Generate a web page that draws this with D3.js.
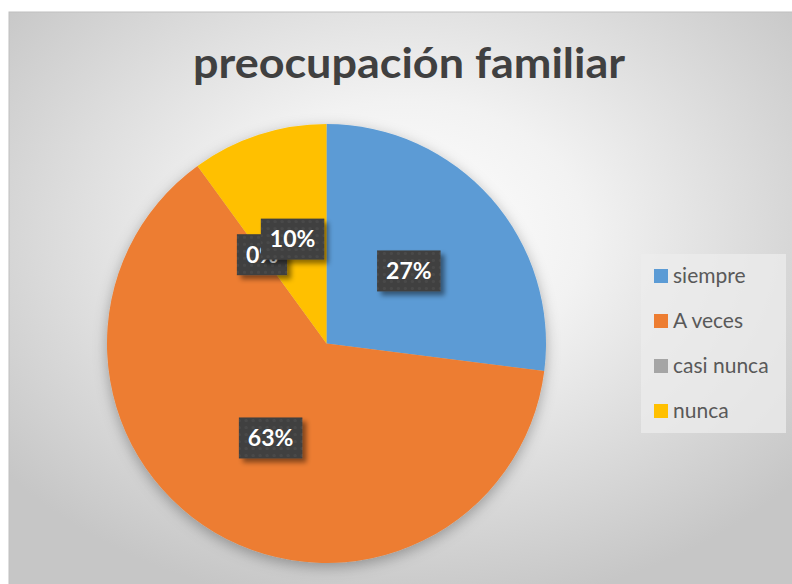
<!DOCTYPE html>
<html>
<head>
<meta charset="utf-8">
<script src="https://cdn.jsdelivr.net/npm/d3@7"></script>
<style>
  body { margin: 0; background: #fff; }
</style>
</head>
<body>
<div id="my_dataviz"></div>
<script>
// data
const categories = ["siempre", "A veces", "casi nunca", "nunca"];
const values = [27, 63, 0, 10];
const sliceColors = ["#5B9BD5", "#ED7D31", "#A5A5A5", "#FFC000"];
const title = "preocupación familiar";

const width = 792, height = 584;

const svg = d3.select("#my_dataviz")
  .append("svg")
    .attr("width", width)
    .attr("height", height);

const defs = svg.append("defs");

// chart background gradient
const bg = defs.append("radialGradient")
    .attr("id", "bg")
    .attr("cx", "50%").attr("cy", "38%")
    .attr("r", "65%");
bg.append("stop").attr("offset", "0%").attr("stop-color", "#ffffff");
bg.append("stop").attr("offset", "35%").attr("stop-color", "#f2f2f2");
bg.append("stop").attr("offset", "100%").attr("stop-color", "#c6c6c6");

// pie shadow
const pieShadow = defs.append("filter").attr("id", "pieShadow")
    .attr("x", "-20%").attr("y", "-20%").attr("width", "140%").attr("height", "140%");
pieShadow.append("feDropShadow")
    .attr("dx", 0).attr("dy", 4).attr("stdDeviation", 7)
    .attr("flood-color", "#000").attr("flood-opacity", 0.3);

// label shadow
const lblShadow = defs.append("filter").attr("id", "lblShadow")
    .attr("x", "-30%").attr("y", "-30%").attr("width", "160%").attr("height", "160%");
lblShadow.append("feDropShadow")
    .attr("dx", 4).attr("dy", 4).attr("stdDeviation", 2.5)
    .attr("flood-color", "#000").attr("flood-opacity", 0.45);

// dotted texture for the label boxes
const pat = defs.append("pattern")
    .attr("id", "dots")
    .attr("patternUnits", "userSpaceOnUse")
    .attr("width", 7).attr("height", 7);
pat.append("rect").attr("width", 7).attr("height", 7).attr("fill", "#404040");
pat.append("circle").attr("cx", 3.5).attr("cy", 3.5).attr("r", 1.6).attr("fill", "#4a4a4a");

// chart area
svg.append("rect")
    .attr("x", 9).attr("y", 12)
    .attr("width", width).attr("height", height)
    .attr("fill", "url(#bg)")
    .attr("stroke", "#bfbfbf")
    .attr("stroke-width", 1);

// title
svg.append("text")
    .attr("x", 409)
    .attr("y", 78)
    .attr("text-anchor", "middle")
    .attr("textLength", 432)
    .attr("lengthAdjust", "spacingAndGlyphs")
    .style("font-family", "Lato, 'Open Sans', sans-serif")
    .style("font-weight", "bold")
    .style("font-size", "42px")
    .style("fill", "#404040")
    .text(title);

// pie
const radius = 219.5;
const cx = 326.5, cy = 343.5;

const pie = d3.pie().sort(null).value(d => d.value);
const arc = d3.arc().innerRadius(0).outerRadius(radius);

const data = categories.map((c, i) => ({name: c, value: values[i], color: sliceColors[i]}));
const arcs = pie(data);

const g = svg.append("g")
    .attr("transform", `translate(${cx}, ${cy})`);

g.append("g")
    .attr("filter", "url(#pieShadow)")
  .selectAll("path")
  .data(arcs)
  .enter()
  .append("path")
    .attr("d", arc)
    .attr("fill", d => d.data.color);

// data labels
const total = d3.sum(values);
const labels = g.append("g")
  .selectAll("g")
  .data(arcs)
  .enter()
  .append("g")
    .attr("transform", d => `translate(${arc.centroid(d)})`);

labels.each(function(d) {
  const lg = d3.select(this);
  const txt = Math.round(d.data.value / total * 100) + "%";
  const t = lg.append("text")
      .attr("text-anchor", "middle")
      .attr("dy", "0.36em")
      .style("font-family", "Lato, 'Open Sans', sans-serif")
      .style("font-weight", "bold")
      .style("font-size", "23px")
      .style("fill", "#fff")
      .text(txt);
  const w = t.node().getComputedTextLength() + 18;
  lg.insert("rect", "text")
      .attr("x", -w / 2).attr("y", -20.5)
      .attr("width", w).attr("height", 41)
      .attr("fill", "url(#dots)")
      .attr("filter", "url(#lblShadow)");
});

// legend
const legend = svg.append("g")
    .attr("transform", "translate(641, 254)");

legend.append("rect")
    .attr("width", 145)
    .attr("height", 179)
    .attr("fill", "#ececec")
    .attr("fill-opacity", 0.75);

const rows = legend.selectAll("g.item")
  .data(data)
  .enter()
  .append("g")
    .attr("class", "item")
    .attr("transform", (d, i) => `translate(13, ${22 + i * 45})`);

rows.append("rect")
    .attr("x", 0).attr("y", -7)
    .attr("width", 14).attr("height", 14)
    .attr("fill", d => d.color);

rows.append("text")
    .attr("x", 19)
    .attr("dy", "0.35em")
    .style("font-family", "Lato, 'Open Sans', sans-serif")
    .style("font-size", "21px")
    .style("fill", "#595959")
    .text(d => d.name);
</script>
</body>
</html>
